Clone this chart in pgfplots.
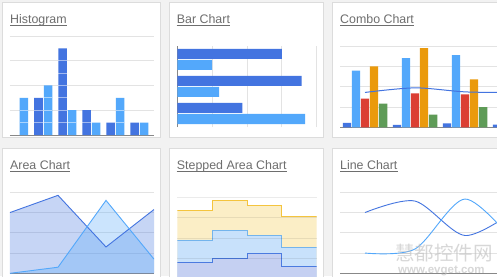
\documentclass[border=0pt]{standalone}
\usepackage{pgfplots}
\pgfplotsset{compat=1.18}
\usepackage{fontspec}
\setmainfont{Liberation Sans}
\newfontfamily\cjk{Noto Sans CJK SC}
\definecolor{bg}{HTML}{F2F2F2}
\definecolor{cardb}{HTML}{DCDCDC}
\definecolor{gridc}{HTML}{E3E3E3}
\definecolor{basec}{HTML}{888888}
\definecolor{titlec}{HTML}{6E6E6E}
\definecolor{darkb}{HTML}{4374E0}
\definecolor{lightb}{HTML}{53A8FB}
\definecolor{redc}{HTML}{DB3E33}
\definecolor{orangec}{HTML}{EA9A0C}
\definecolor{greenc}{HTML}{5E9B57}
\definecolor{yelc}{HTML}{F4C43E}
\definecolor{yelf}{HTML}{FBEEC6}
\definecolor{lbf}{HTML}{C8E1FB}
\definecolor{lbl}{HTML}{74B4EC}
\definecolor{dbf}{HTML}{C5D0F2}
\definecolor{dbl}{HTML}{4B7BE0}
\definecolor{wmc}{HTML}{BDBDBD}
\pgfplotsset{
  thumb/.style={scale only axis, anchor=south west, tick style={draw=none}, major tick length=0pt,
    axis line style={draw=none}, xticklabels={}, yticklabels={},
    extra x tick labels={}, extra y tick labels={},
    grid style={draw=gridc, line width=0.9pt}},
  base y/.style={extra y ticks={#1}, extra y tick style={grid style={draw=basec, line width=1pt}}},
  base x/.style={extra x ticks={#1}, extra x tick style={grid style={draw=basec, line width=1pt}}},
}
\newcommand{\ttl}[4]{%
  \node[anchor=base west, inner sep=0pt, text=titlec, font=\fontsize{12.4}{14}\selectfont] (#1) at (#2pt,#3pt) {#4};
  \draw[titlec, line width=0.8pt] ([yshift=-1.8pt]#1.base west) -- ([yshift=-1.8pt]#1.base east);}
\begin{document}
\begin{tikzpicture}
\useasboundingbox (0,0) rectangle (497pt,276pt);
\clip (0,0) rectangle (497pt,276pt);
\fill[bg] (0,0) rectangle (497pt,276pt);
% cards
\filldraw[fill=white, draw=cardb, line width=1pt] (2.5pt,138.5pt) rectangle (160.5pt,273.5pt);
\filldraw[fill=white, draw=cardb, line width=1pt] (169pt,138.5pt) rectangle (323.5pt,273.5pt);
\filldraw[fill=white, draw=cardb, line width=1pt] (332.5pt,138.5pt) rectangle (530pt,273.5pt);
\filldraw[fill=white, draw=cardb, line width=1pt] (2.5pt,-20pt) rectangle (160.5pt,127.5pt);
\filldraw[fill=white, draw=cardb, line width=1pt] (169pt,-20pt) rectangle (323.5pt,127.5pt);
\filldraw[fill=white, draw=cardb, line width=1pt] (332.5pt,-20pt) rectangle (530pt,127.5pt);
% titles
\ttl{t1}{10}{252.7}{Histogram}
\ttl{t2}{176.7}{252.7}{Bar Chart}
\ttl{t3}{340}{252.7}{Combo Chart}
\ttl{t4}{10}{106.7}{Area Chart}
\ttl{t5}{176.7}{106.7}{Stepped Area Chart}
\ttl{t6}{340}{106.7}{Line Chart}

% Histogram
\begin{axis}[thumb, base y=0, at={(10pt,141pt)}, width=144pt, height=99pt,
  xmin=10, xmax=154, ymin=0, ymax=8, xtick=\empty, ytick={2,4,6,8}, ymajorgrids]
\addplot[ybar, bar width=8.5pt, bar shift=0pt, fill=lightb, draw=none]
  coordinates {(24,3) (48,4) (72,2) (96,1) (120,3) (144,1)};
\addplot[ybar, bar width=8.5pt, bar shift=0pt, fill=darkb, draw=none]
  coordinates {(38.5,3) (62.5,7) (86.5,2) (110.5,1) (134.5,1)};
\addplot[only marks, mark=-, mark size=4.25pt, mark options={draw=white, draw opacity=0.5, line width=0.8pt}]
  coordinates {(24,1) (24,2) (38.5,1) (38.5,2) (48,1) (48,2) (48,3)
  (62.5,1) (62.5,2) (62.5,3) (62.5,4) (62.5,5) (62.5,6) (72,1) (86.5,1) (120,1) (120,2)};
\end{axis}

% Bar chart
\begin{axis}[thumb, base x=100, at={(177.3pt,149pt)}, width=139.4pt, height=81pt,
  xmin=100, xmax=1300, ymin=-0.5, ymax=2.5,
  ytick=\empty, xtick={400,700,1000,1300}, xmajorgrids]
\addplot[xbar, bar width=10pt, bar shift=5.5pt, fill=darkb, draw=none]
  coordinates {(1000,2) (1170,1) (660,0)};
\addplot[xbar, bar width=10pt, bar shift=-5.5pt, fill=lightb, draw=none]
  coordinates {(400,2) (460,1) (1200,0)};
\end{axis}

% Combo chart
\begin{axis}[thumb, base y=100, at={(340pt,148.7pt)}, width=200pt, height=81.3pt,
  xmin=-0.5, xmax=3.5, ymin=100, ymax=1300, xtick=\empty, ytick={400,700,1000,1300}, ymajorgrids]
\addplot[ybar, bar width=8.3pt, bar shift=-18.1pt, fill=darkb, draw=none]
  coordinates {(0,165) (1,135) (2,157) (3,139)};
\addplot[ybar, bar width=8.3pt, bar shift=-9.05pt, fill=lightb, draw=none]
  coordinates {(0,938) (1,1120) (2,1167) (3,1110)};
\addplot[ybar, bar width=8.3pt, bar shift=0pt, fill=redc, draw=none]
  coordinates {(0,522) (1,599) (2,587) (3,615)};
\addplot[ybar, bar width=8.3pt, bar shift=9.05pt, fill=orangec, draw=none]
  coordinates {(0,998) (1,1268) (2,807) (3,968)};
\addplot[ybar, bar width=8.3pt, bar shift=18.1pt, fill=greenc, draw=none]
  coordinates {(0,450) (1,288) (2,397) (3,215)};
\addplot[darkb, line width=1pt, smooth]
  coordinates {(0,614.6) (1,682) (2,623) (3,609.4) (4,569.6)};
\end{axis}

% Area chart
\begin{axis}[thumb, base y=400, at={(10pt,2.7pt)}, width=144pt, height=81pt,
  xmin=0, xmax=3, ymin=400, ymax=1200, xtick=\empty, ytick={600,800,1000,1200}, ymajorgrids]
\addplot[fill=darkb, fill opacity=0.3, draw=none]
  coordinates {(0,1000) (1,1170) (2,660) (3,1030)} \closedcycle;
\addplot[fill=lightb, fill opacity=0.3, draw=none]
  coordinates {(0,400) (1,460) (2,1120) (3,540)} \closedcycle;
\addplot[darkb, line width=0.9pt] coordinates {(0,1000) (1,1170) (2,660) (3,1030)};
\addplot[lightb, line width=0.9pt] coordinates {(0,400) (1,460) (2,1120) (3,540)};
\end{axis}

% Stepped area chart (stack totals)
\begin{axis}[thumb, at={(177.3pt,-2.6pt)}, width=139.4pt, height=81.3pt,
  xmin=0, xmax=4, ymin=0, ymax=4, axis on top,
  xtick=\empty, ytick={1,2,3,4}, ymajorgrids,
  grid style={draw=black, draw opacity=0.08, line width=0.9pt}]
\addplot[const plot, fill=yelf, draw=none]
  coordinates {(0,3.36) (1,3.86) (2,3.61) (3,3.08) (4,3.08)} \closedcycle;
\addplot[const plot, fill=lbf, draw=none]
  coordinates {(0,1.90) (1,2.39) (2,2.13) (3,1.52) (4,1.52)} \closedcycle;
\addplot[const plot, fill=dbf, draw=none]
  coordinates {(0,0.78) (1,1.00) (2,1.23) (3,0.62) (4,0.62)} \closedcycle;
\addplot[const plot, yelc, line width=0.9pt]
  coordinates {(0,3.36) (1,3.86) (2,3.61) (3,3.08) (4,3.08)};
\addplot[const plot, lbl, line width=0.9pt]
  coordinates {(0,1.90) (1,2.39) (2,2.13) (3,1.52) (4,1.52)};
\addplot[const plot, dbl, line width=0.9pt]
  coordinates {(0,0.78) (1,1.00) (2,1.23) (3,0.62) (4,0.62)};
\end{axis}

% Line chart
\begin{axis}[thumb, base y=100, at={(340pt,2.7pt)}, width=200pt, height=81pt,
  xmin=-0.5, xmax=3.5, ymin=100, ymax=1300, xtick=\empty, ytick={400,700,1000,1300}, ymajorgrids]
\addplot[darkb, line width=0.9pt, smooth] coordinates {(0,1000) (1,1170) (2,660) (3,1030)};
\addplot[lightb, line width=0.9pt, smooth] coordinates {(0,400) (1,460) (2,1200) (3,540)};
\end{axis}

% watermark
\node[anchor=base west, inner sep=0pt, text=wmc, opacity=0.6, font=\cjk\fontsize{19.5}{20}\selectfont] at (395pt,15.5pt) {慧都控件网};
\node[anchor=base west, inner sep=0pt, text=wmc, opacity=0.6, font=\bfseries\fontsize{11.5}{12}\selectfont] at (398pt,3pt) {www.evget.com};
\end{tikzpicture}
\end{document}
